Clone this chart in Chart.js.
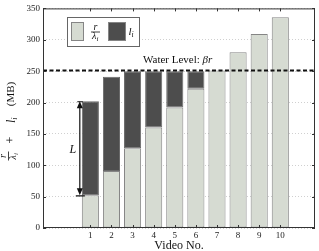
<!DOCTYPE html>
<html>
<head>
<meta charset="utf-8">
<script src="https://cdn.jsdelivr.net/npm/chart.js"></script>
<style>
  html, body { margin: 0; padding: 0; background: #fff; }
</style>
</head>
<body>
<canvas id="chart" width="319" height="251"></canvas>
<script>
// data
const videos = [1, 2, 3, 4, 5, 6, 7, 8, 9, 10];
const tickLabels = ["1", "2", "3", "4", "5", "6", "7", "8", "9", "10"];
const bufferVals = [52, 91, 127, 160, 192, 222, 251, 280, 309, 336]; // r / lambda_i
const lVals = [150, 150, 123, 90, 58, 28, null, null, null, null];    // l_i
const yTicks = [0, 50, 100, 150, 200, 250, 300, 350];
const waterLevel = 251;

const SERIF = "'Liberation Serif', 'DejaVu Serif', serif";
const LIGHT = "#d6dbd2";
const DARK = "#4d4d4d";
const EDGE = "#858585";

function frac(ctx, x, y, num, den, sub, size) {
  // fraction centred at (x, y) where y is the bar line
  ctx.font = "italic " + size + "px " + SERIF;
  ctx.textAlign = "center";
  ctx.textBaseline = "alphabetic";
  ctx.fillText(num, x, y - 2);
  const w = ctx.measureText(den).width;
  const sw = 2.5;
  ctx.fillText(den, x - sw / 2, y + size * 0.78);
  ctx.font = "italic " + (size * 0.7) + "px " + SERIF;
  ctx.textAlign = "left";
  ctx.fillText(sub, x - sw / 2 + w / 2, y + size * 0.95);
  ctx.beginPath();
  ctx.lineWidth = 0.8;
  ctx.moveTo(x - 4.5, y + 0.5);
  ctx.lineTo(x + 4.5, y + 0.5);
  ctx.stroke();
}

function withSub(ctx, x, y, base, sub, size) {
  ctx.font = "italic " + size + "px " + SERIF;
  ctx.textAlign = "left";
  ctx.textBaseline = "alphabetic";
  const w = ctx.measureText(base).width;
  ctx.fillText(base, x, y);
  ctx.font = "italic " + (size * 0.7) + "px " + SERIF;
  ctx.fillText(sub, x + w, y + 2);
  return w + ctx.measureText(sub).width;
}

const decor = {
  id: "decor",
  afterDatasetsDraw(chart) {
    const ctx = chart.ctx;
    const a = chart.chartArea;
    const xs = chart.scales.x, ys = chart.scales.y;
    ctx.save();
    ctx.fillStyle = "#111";
    ctx.strokeStyle = "#111";

    // water level line
    const wy = ys.getPixelForValue(waterLevel);
    ctx.beginPath();
    ctx.setLineDash([4, 2.5]);
    ctx.lineWidth = 2;
    ctx.moveTo(a.left, wy);
    ctx.lineTo(a.right, wy);
    ctx.stroke();
    ctx.setLineDash([]);

    ctx.font = "11px " + SERIF;
    ctx.textAlign = "left";
    ctx.textBaseline = "alphabetic";
    const t = "Water Level: ";
    ctx.fillText(t, 143, wy - 7.5);
    const tw = ctx.measureText(t).width;
    ctx.font = "italic 11px " + SERIF;
    ctx.fillText("\u03B2r", 143 + tw, wy - 7.5);

    // frame and inward ticks
    ctx.strokeStyle = "#333";
    ctx.lineWidth = 1;
    ctx.strokeRect(a.left + 0.5, a.top + 0.5, a.right - a.left - 1, a.bottom - a.top - 1);
    ctx.beginPath();
    yTicks.forEach(v => {
      const y = Math.round(ys.getPixelForValue(v)) + 0.5;
      ctx.moveTo(a.left, y); ctx.lineTo(a.left + 3, y);
      ctx.moveTo(a.right, y); ctx.lineTo(a.right - 3, y);
    });
    videos.forEach(v => {
      const x = Math.round(xs.getPixelForValue(v)) + 0.5;
      ctx.moveTo(x, a.top); ctx.lineTo(x, a.top + 3);
      ctx.moveTo(x, a.bottom); ctx.lineTo(x, a.bottom - 3);
    });
    ctx.stroke();

    // legend
    ctx.fillStyle = "#fff";
    ctx.fillRect(67, 17, 72, 29);
    ctx.strokeStyle = "#666";
    ctx.strokeRect(67.5, 17.5, 72, 29);
    ctx.fillStyle = LIGHT;
    ctx.fillRect(71, 22, 12, 18);
    ctx.strokeStyle = EDGE;
    ctx.strokeRect(71.5, 22.5, 12, 18);
    ctx.fillStyle = DARK;
    ctx.fillRect(108, 22, 17, 18);
    ctx.strokeRect(108.5, 22.5, 17, 18);
    ctx.fillStyle = "#111";
    ctx.strokeStyle = "#111";
    frac(ctx, 95.5, 31.5, "r", "\u03BB", "i", 10);
    withSub(ctx, 128.5, 34.5, "l", "i", 11);

    // L annotation
    const ax = xs.getPixelForValue(0.5);
    const yTop = ys.getPixelForValue(bufferVals[0] + lVals[0]);
    const yBot = ys.getPixelForValue(bufferVals[0]);
    ctx.lineWidth = 1.2;
    ctx.beginPath();
    ctx.moveTo(ax, yTop + 5); ctx.lineTo(ax, yBot - 5);
    ctx.moveTo(ax - 4, yBot + 0.5); ctx.lineTo(ax + 5, yBot + 0.5);
    ctx.moveTo(ax - 2.5, yTop + 0.5); ctx.lineTo(ax + 3, yTop + 0.5);
    ctx.stroke();
    ctx.beginPath();
    ctx.moveTo(ax, yTop); ctx.lineTo(ax - 3, yTop + 7); ctx.lineTo(ax + 3, yTop + 7); ctx.closePath();
    ctx.moveTo(ax, yBot); ctx.lineTo(ax - 3, yBot - 7); ctx.lineTo(ax + 3, yBot - 7); ctx.closePath();
    ctx.fill();
    ctx.font = "italic 12px " + SERIF;
    ctx.textAlign = "center";
    ctx.textBaseline = "middle";
    ctx.fillText("L", ax - 7, (yTop + yBot) / 2 + 2);

    // x title
    ctx.font = "12px " + SERIF;
    ctx.textAlign = "center";
    ctx.textBaseline = "middle";
    ctx.fillText("Video No.", (a.left + a.right) / 2, 246);

    // y title (rotated pieces)
    function rot(cx, cy, fn) {
      ctx.save();
      ctx.translate(cx, cy);
      ctx.rotate(-Math.PI / 2);
      fn();
      ctx.restore();
    }
    rot(8, 156, () => frac(ctx, 0, 0, "r", "\u03BB", "i", 10));
    rot(11, 140, () => {
      ctx.font = "12px " + SERIF;
      ctx.textAlign = "center";
      ctx.textBaseline = "middle";
      ctx.fillText("+", 0, 0);
    });
    rot(15, 123, () => withSub(ctx, 0, 0, "l", "i", 12));
    rot(11, 94, () => {
      ctx.font = "11px " + SERIF;
      ctx.textAlign = "center";
      ctx.textBaseline = "middle";
      ctx.fillText("(MB)", 0, 0);
    });

    ctx.restore();
  }
};

new Chart(document.getElementById("chart"), {
  type: "bar",
  data: {
    datasets: [
      {
        label: "r/λi",
        data: videos.map((v, i) => ({ x: v, y: bufferVals[i] })),
        backgroundColor: LIGHT,
        borderColor: EDGE,
        borderWidth: 1,
        borderSkipped: false,
      },
      {
        label: "li",
        data: videos.map((v, i) => ({ x: v, y: lVals[i] })),
        backgroundColor: DARK,
        borderColor: "#6a6a6a",
        borderWidth: 1,
        borderSkipped: false,
      },
    ],
  },
  options: {
    responsive: false,
    animation: false,
    layout: { padding: { top: 5, right: 4, left: 0, bottom: 0 } },
    barPercentage: 0.81,
    categoryPercentage: 1,
    plugins: { legend: { display: false }, tooltip: { enabled: false } },
    scales: {
      x: {
        type: "linear",
        stacked: true,
        min: -0.6,
        max: 11,
        afterBuildTicks: (s) => { s.ticks = videos.map(v => ({ value: v })); },
        afterFit: (s) => { s.height = 23; },
        grid: { display: false, drawTicks: false },
        border: { display: false },
        ticks: {
          callback: (v) => tickLabels[v - 1],
          font: { family: SERIF, size: 9 },
          color: "#222",
          padding: 2,
          maxRotation: 0,
        },
      },
      y: {
        stacked: true,
        min: 0,
        max: 350,
        afterBuildTicks: (s) => { s.ticks = yTicks.map(v => ({ value: v })); },
        afterFit: (s) => { s.width = 43; },
        grid: { color: "#c4c4c4", drawTicks: false, lineWidth: 0.8 },
        border: { display: false, dash: [1, 2] },
        ticks: {
          font: { family: SERIF, size: 9 },
          color: "#222",
          padding: 3,
        },
      },
    },
  },
  plugins: [decor],
});
</script>
</body>
</html>
